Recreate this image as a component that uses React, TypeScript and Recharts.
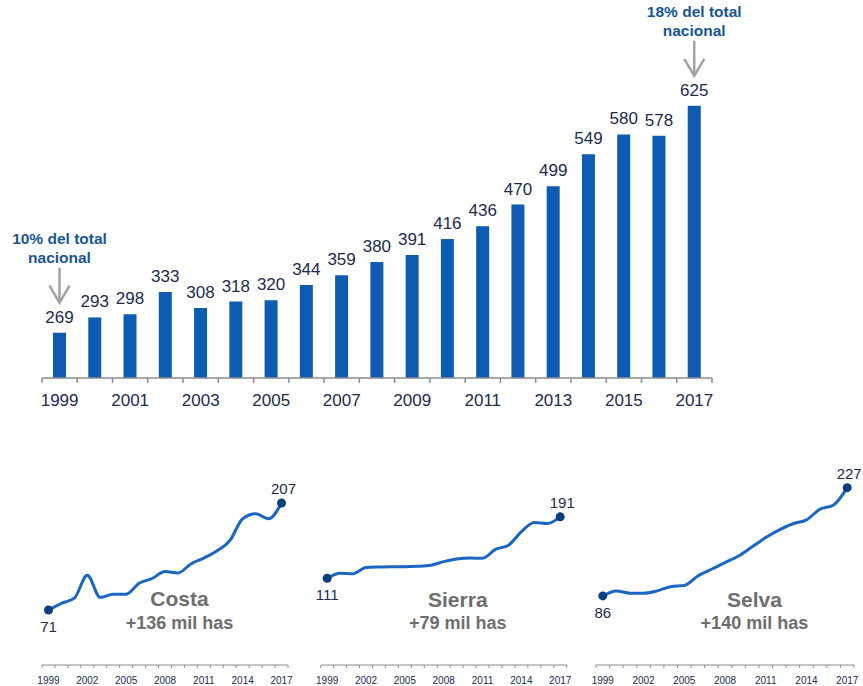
import { BarChart, Bar, XAxis, YAxis, LabelList, LineChart, Line } from 'recharts';

// national total (mil has), 1999-2017
const years = ['1999', '2000', '2001', '2002', '2003', '2004', '2005', '2006', '2007', '2008', '2009', '2010', '2011', '2012', '2013', '2014', '2015', '2016', '2017'];
const nationalTotal = [269, 293, 298, 333, 308, 318, 320, 344, 359, 380, 391, 416, 436, 470, 499, 549, 580, 578, 625];
const mainTickLabels = ['1999', '2001', '2003', '2005', '2007', '2009', '2011', '2013', '2015', '2017'];
const notes: Record<string, string[]> = {
  '1999': ['10% del total', 'nacional'],
  '2017': ['18% del total', 'nacional'],
};

// regions
const costaValues = [71, 79.5, 86, 115, 87, 91, 91, 105, 111, 120, 118, 129.5, 137, 146, 159, 187, 193.5, 187, 207];
const sierraValues = [111, 117.5, 117, 125, 125.7, 126, 126, 126.6, 128, 132.6, 136, 137.4, 137, 148.6, 154, 171.6, 183.7, 182.4, 191];
const selvaValues = [86, 92.5, 89.5, 89.5, 92.5, 98, 99.5, 112, 120.7, 129.4, 138, 150, 162, 172, 180, 185, 199, 204.5, 227];
const smallTickLabels = ['1999', '2002', '2005', '2008', '2011', '2014', '2017'];
const regionNames = ['Costa', 'Sierra', 'Selva'];
const regionGains = ['+136 mil has', '+79 mil has', '+140 mil has'];

const FONT = "Arial, 'Liberation Sans', sans-serif";
const NAVY = '#1c2b4d';
const BAR = '#0d5cb2';
const NOTE = '#1a5596';
const ARROW = '#a3a3a3';
const AXIS = '#8c8c8c';
const LINE = '#1a66c2';
const DOT = '#0c3d7e';
const TITLE = '#6e6e6e';

const mainData = years.map((year, i) => ({ year, value: nationalTotal[i] }));

const MAIN_LEFT = 42;
const MAIN_RIGHT = 151;
const MAIN_BAND = (863 - MAIN_LEFT - MAIN_RIGHT) / years.length;

function MainTick(props: any) {
  const { x, y, payload, index } = props;
  const h = MAIN_BAND / 2;
  return (
    <g>
      <line x1={x - h} x2={x - h} y1={y} y2={y + 5} stroke={AXIS} strokeWidth={1.5} />
      {index === years.length - 1 && <line x1={x + h} x2={x + h} y1={y} y2={y + 5} stroke={AXIS} strokeWidth={1.5} />}
      {mainTickLabels.includes(payload.value) && (
        <text x={x} y={y + 28} textAnchor="middle" fontSize={17} fill={NAVY} fontFamily={FONT}>
          {payload.value}
        </text>
      )}
    </g>
  );
}

function BarLabel(props: any) {
  const { x, y, width, value, index } = props;
  const cx = x + width / 2;
  const note = notes[years[index]];
  return (
    <g>
      <text x={cx} y={y - 10} textAnchor="middle" fontSize={17} fill={NAVY} fontFamily={FONT}>
        {value}
      </text>
      {note && (
        <g>
          <line x1={cx} x2={cx} y1={y - 65} y2={y - 30} stroke={ARROW} strokeWidth={2.5} />
          <polyline points={`${cx - 10},${y - 47} ${cx},${y - 30} ${cx + 10},${y - 47}`} fill="none" stroke={ARROW} strokeWidth={2.5} />
          <text x={cx} y={y - 88.5} textAnchor="middle" fontSize={15.5} fontWeight="bold" fill={NOTE} fontFamily={FONT}>
            {note[0]}
          </text>
          <text x={cx} y={y - 69.5} textAnchor="middle" fontSize={15.5} fontWeight="bold" fill={NOTE} fontFamily={FONT}>
            {note[1]}
          </text>
        </g>
      )}
    </g>
  );
}

const smallTick = (band: number) => (props: any) => {
  const { x, y, payload, index } = props;
  const h = band / 2;
  return (
    <g>
      <line x1={x - h} x2={x - h} y1={y} y2={y + 3} stroke={AXIS} />
      {index === years.length - 1 && <line x1={x + h} x2={x + h} y1={y} y2={y + 3} stroke={AXIS} />}
      {smallTickLabels.includes(payload.value) && (
        <text x={x} y={y + 19} textAnchor="middle" fontSize={10} fill={NAVY} fontFamily={FONT}>
          {payload.value}
        </text>
      )}
    </g>
  );
};

const endDot = (p: any) => {
  const { cx, cy, index, value } = p;
  const last = years.length - 1;
  if (index !== 0 && index !== last) return <g key={`d${index}`} />;
  const first = index === 0;
  return (
    <g key={`d${index}`}>
      <circle cx={cx} cy={cy} r={4.5} fill={DOT} />
      <text x={first ? cx : cx + 2} y={first ? cy + 22 : cy - 9} textAnchor="middle" fontSize={15} fill={NAVY} fontFamily={FONT}>
        {value}
      </text>
    </g>
  );
};

interface PanelProps {
  values: number[];
  left: number;
  width: number;
  marginLeft: number;
  marginRight: number;
  domain: [number, number];
}

function RegionPanel({ values, left, width, marginLeft, marginRight, domain }: PanelProps) {
  const data = years.map((year, i) => ({ year, value: values[i] }));
  const band = (width - marginLeft - marginRight) / years.length;
  return (
    <div style={{ position: 'absolute', left, top: 450 }}>
      <LineChart width={width} height={236} data={data} margin={{ top: 20, right: marginRight, left: marginLeft, bottom: 0 }}>
        <XAxis
          dataKey="year"
          height={21}
          interval={0}
          padding={{ left: band / 2, right: band / 2 }}
          tickSize={0}
          tickMargin={0}
          tickLine={false}
          axisLine={{ stroke: AXIS, strokeWidth: 1 }}
          tick={smallTick(band)}
        />
        <YAxis hide domain={domain} />
        <Line
          type="monotone"
          dataKey="value"
          stroke={LINE}
          strokeWidth={3}
          dot={endDot}
          activeDot={false}
          isAnimationActive={false}
        />
      </LineChart>
    </div>
  );
}

const titlePos = [
  { x: 179.5, y: 606 },
  { x: 457.8, y: 606.5 },
  { x: 754.4, y: 606.5 },
];

export default function App() {
  return (
    <div style={{ position: 'absolute', left: 0, top: 0, width: 863, height: 686, background: '#fff', fontFamily: FONT }}>
      <div style={{ position: 'absolute', left: 0, top: 0 }}>
        <BarChart width={863} height={430} data={mainData} margin={{ top: 58, right: MAIN_RIGHT, left: MAIN_LEFT, bottom: 0 }}>
          <XAxis
            dataKey="year"
            height={52}
            interval={0}
            tickSize={0}
            tickMargin={0}
            tickLine={false}
            axisLine={{ stroke: AXIS, strokeWidth: 1.5 }}
            tick={MainTick}
          />
          <YAxis hide domain={[198, 700]} />
          <Bar dataKey="value" fill={BAR} barSize={13} isAnimationActive={false}>
            <LabelList dataKey="value" content={BarLabel} />
          </Bar>
        </BarChart>
      </div>

      <RegionPanel values={costaValues} left={0} width={300} marginLeft={42} marginRight={12} domain={[1, 249]} />
      <RegionPanel values={sierraValues} left={300} width={290} marginLeft={20.7} marginRight={23.3} domain={[-2, 252]} />
      <RegionPanel values={selvaValues} left={580} width={283} marginLeft={16} marginRight={9} domain={[-4, 250]} />

      <svg width={863} height={686} style={{ position: 'absolute', left: 0, top: 0, pointerEvents: 'none' }}>
        {regionNames.map((name, i) => (
          <g key={name}>
            <text x={titlePos[i].x} y={titlePos[i].y} textAnchor="middle" fontSize={21} fontWeight="bold" fill={TITLE} fontFamily={FONT}>
              {name}
            </text>
            <text x={titlePos[i].x} y={titlePos[i].y + 22.7} textAnchor="middle" fontSize={18} fontWeight="bold" fill={TITLE} fontFamily={FONT}>
              {regionGains[i]}
            </text>
          </g>
        ))}
      </svg>
    </div>
  );
}
